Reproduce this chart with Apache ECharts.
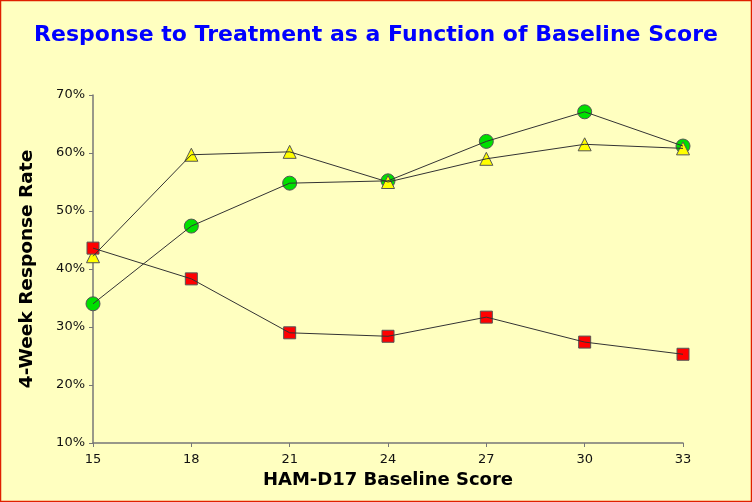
<!DOCTYPE html>
<html><head><meta charset="utf-8">
<script src="https://cdn.jsdelivr.net/npm/echarts@6/dist/echarts.min.js"></script>
<style>html,body{margin:0;padding:0;background:#FFFFC0}#c{width:752px;height:502px}</style>
</head><body><div id="c"></div>
<script>
const baseline = [15, 18, 21, 24, 27, 30, 33];
const circleSeries = [34.0, 47.4, 54.8, 55.2, 62.0, 67.1, 61.2];
const triangleSeries = [42.2, 59.7, 60.2, 55.0, 59.0, 61.5, 60.8];
const squareSeries = [43.6, 38.3, 29.0, 28.4, 31.7, 27.4, 25.3];
const yTicks = [10, 20, 30, 40, 50, 60, 70];

const pairs = arr => baseline.map((x, i) => [x, arr[i]]);
const chart = echarts.init(document.getElementById('c'));
const font = '"DejaVu Sans", sans-serif';
const markerStyle = c => ({color: c, borderColor: '#555', borderWidth: 1, opacity: 1});
const lineSeries = arr => ({type: 'line', data: pairs(arr), showSymbol: false, z: 4,
  lineStyle: {color: '#333', width: 1}, silent: true});
const scatterSeries = (arr, sym, size, c) => ({type: 'scatter', data: pairs(arr), symbol: sym,
  symbolSize: size, itemStyle: markerStyle(c), z: 3});

chart.setOption({
  backgroundColor: '#FFFFC0',
  animation: false,
  title: {text: 'Response to Treatment as a Function of Baseline Score', left: 'center', top: 19,
    textStyle: {color: '#0000FF', fontSize: 22, fontWeight: 'bold', fontFamily: font}},
  graphic: [{type: 'rect', shape: {x: 0.5, y: 0.5, width: 751, height: 501},
    style: {fill: 'none', stroke: '#E02000', lineWidth: 1.5}, z: 100}],
  grid: {left: 93, right: 69, top: 95, bottom: 59},
  xAxis: {type: 'value', min: 15, max: 33, interval: 3,
    name: 'HAM-D17 Baseline Score', nameLocation: 'middle', nameGap: 28,
    nameTextStyle: {fontSize: 18, fontWeight: 'bold', color: '#000', fontFamily: font},
    axisLine: {lineStyle: {color: '#777', width: 1.5}},
    axisTick: {show: true, length: 4, lineStyle: {color: '#777'}},
    axisLabel: {color: '#111', fontSize: 13, fontFamily: font, margin: 10},
    splitLine: {show: false}},
  yAxis: {type: 'value', min: 10, max: 70, interval: 10,
    name: '4-Week Response Rate', nameLocation: 'middle', nameGap: 56, nameRotate: 90,
    nameTextStyle: {fontSize: 18.5, fontWeight: 'bold', color: '#000', fontFamily: font},
    axisLine: {show: true, lineStyle: {color: '#777', width: 1.5}},
    axisTick: {show: true, length: 4, lineStyle: {color: '#777'}},
    axisLabel: {color: '#111', fontSize: 13, fontFamily: font, margin: 8,
      formatter: v => yTicks.includes(v) ? v + '%' : ''},
    splitLine: {show: false}},
  series: [
    scatterSeries(circleSeries, 'circle', 14, '#00E000'),
    scatterSeries(triangleSeries, 'triangle', 13, '#FFFF00'),
    scatterSeries(squareSeries, 'rect', 12, '#FF0000'),
    lineSeries(circleSeries),
    lineSeries(triangleSeries),
    lineSeries(squareSeries)
  ]
});
</script></body></html>
